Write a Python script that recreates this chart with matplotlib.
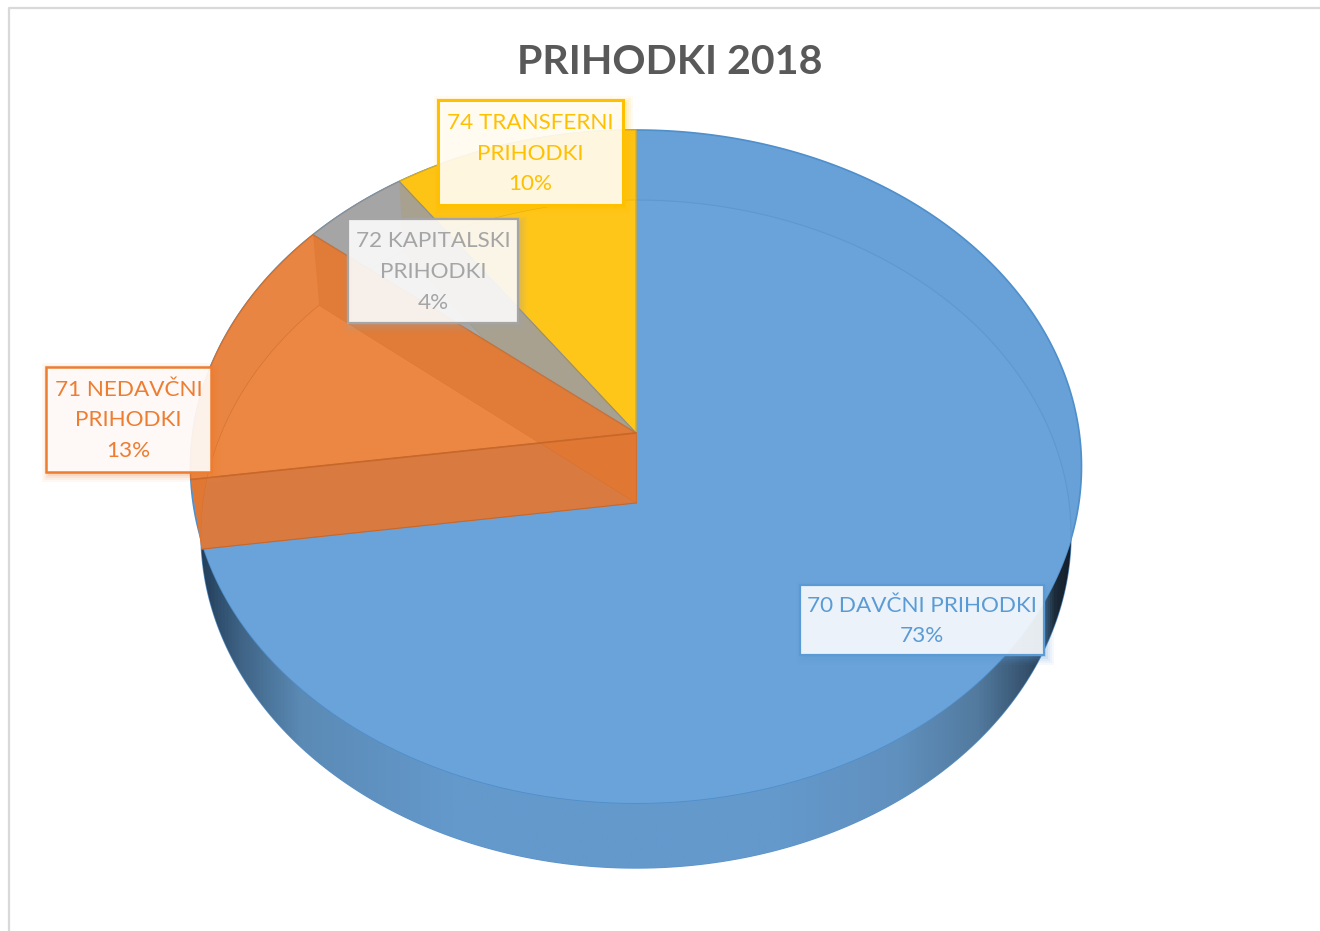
import numpy as np
import matplotlib
matplotlib.use('Agg')
import matplotlib.pyplot as plt
from matplotlib.colors import LinearSegmentedColormap
from matplotlib.patches import Polygon, Rectangle

plt.rcParams['font.family'] = ['Lato', 'DejaVu Sans']

# data
title = 'PRIHODKI 2018'
names = ['70 DAVČNI PRIHODKI', '71 NEDAVČNI\nPRIHODKI', '72 KAPITALSKI\nPRIHODKI', '74 TRANSFERNI\nPRIHODKI']
shares = [72.8, 13.1, 4.3, 9.8]

# slice colours: dark = top face only, light = top face over the see-through floor
text_colors = ['#5B9BD5', '#ED7D31', '#A5A5A5', '#FFC000']
dark_colors = ['#68A0D8', '#E98542', '#A5A5A5', '#FDC315']
light_colors = ['#6AA3DA', '#EB8742', '#A9A9A9', '#FFC61A']
cut_colors = [None, '#E17B38', None, None]
edge_colors = ['#4F8FCB', '#D0702F', '#8F8F8F', '#E0AC10']

# label boxes in pixels: left, top, right, bottom
boxes = [(800, 585, 1044, 655), (46, 367, 211, 472), (348, 219, 518, 323), (438, 100, 623, 205)]
box_alpha = [0.88, 0.90, 0.87, 0.87]
box_lw = [1.6, 1.8, 1.6, 2.2]

fig = plt.figure(figsize=(13.2, 9.31), dpi=100)
ax = fig.add_axes([0, 0, 1, 1])
ax.set_xlim(0, 1320)
ax.set_ylim(931, 0)
ax.axis('off')

# perspective pie: circle mapped to the picture, (apex y, top y, bottom y, half width)
TOP = (433, 130, 803, 445.5)
FLOOR = (503, 200, 868, 435)
CX = 636


def rim(view, fr0, fr1, n=120):
    # fractions are clockwise from 12 o'clock
    apex, top, bottom, half = view
    c = (top + bottom - 2 * apex) / (bottom - top)
    a = top * (1 + c) - apex
    k = half * np.sqrt(1 - c ** 2)
    t = np.pi / 2 - 2 * np.pi * np.linspace(fr0, fr1, n)
    u, v = np.cos(t), np.sin(t)
    d = 1 + c * v
    return np.column_stack([CX + k * u / d, (a * v + apex) / d])


def wedge(view, fr0, fr1):
    return np.vstack([[CX, view[0]], rim(view, fr0, fr1)])


def wall(fr):
    p0 = rim(TOP, fr, fr, 1)[0]
    p1 = rim(FLOOR, fr, fr, 1)[0]
    return np.array([[CX, TOP[0]], p0, p1, [CX, FLOOR[0]]])


def poly(xy, **kw):
    p = Polygon(xy, closed=True, **kw)
    ax.add_patch(p)
    return p


fr = np.concatenate([[0], np.cumsum(shares)]) / sum(shares)

# outer wall, visible where the floor pokes out under the top face
floor_all = poly(rim(FLOOR, 0, 1, 400), fc='#6499CC', ec='#5B94CC', lw=1, zorder=1)
stops = [(190, '#1B3550'), (240, '#3F6486'), (300, '#5B8AB5'), (450, '#6499CC'), (780, '#6499CC'),
         (900, '#6090BE'), (980, '#527A9E'), (1030, '#34506B'), (1060, '#1A2735'), (1085, '#0D1620')]
cmap = LinearSegmentedColormap.from_list('wall', [((x - 190) / 895, c) for x, c in stops])
im = ax.imshow(np.linspace(0, 1, 512).reshape(1, -1), extent=(190, 1085, 880, 190), aspect='auto', cmap=cmap, zorder=1.1)
im.set_clip_path(floor_all)
ax.set_xlim(0, 1320)
ax.set_ylim(931, 0)

# blue top face
top_all = poly(rim(TOP, 0, 1, 400), fc=dark_colors[0], ec=edge_colors[0], lw=1.2, zorder=2)
p = poly(rim(FLOOR, 0, 1, 400), fc=light_colors[0], ec='#5F98D0', lw=0.8, zorder=2.1)
p.set_clip_path(top_all)

# the three small slices, back to front
for i in [3, 2, 1]:
    tw = poly(wedge(TOP, fr[i], fr[i + 1]), fc=dark_colors[i], ec='none', zorder=3)
    p = poly(wedge(FLOOR, fr[i], fr[i + 1]), fc=light_colors[i], ec=edge_colors[i], lw=0.4, zorder=3.1)
    p.set_clip_path(tw)
    if i == 2:
        p = poly(wall(fr[3]), fc='#A9A18F', ec='none', zorder=3.2)
        p.set_clip_path(tw)
    if i == 1:
        p = poly(wall(fr[2]), fc=cut_colors[1], ec='none', zorder=3.2)
        p.set_clip_path(tw)
    poly(wedge(TOP, fr[i], fr[i + 1]), fc='none', ec=edge_colors[i], lw=0.9, zorder=3.6)

# front cut of the orange slice with the floor showing through
w = poly(wall(fr[1]), fc='#E07733', ec='none', zorder=4)
p = poly(wedge(FLOOR, fr[1], fr[2]), fc='#D97B40', ec='#D97030', lw=0.4, zorder=4.1)
p.set_clip_path(w)
ax.plot(*wall(fr[1])[:2].T, color='#C8672A', lw=1.2, zorder=4.2)
ax.plot(*wall(fr[1])[2:].T, color='#C8672A', lw=0.8, zorder=4.2)
ax.plot([CX, CX], [TOP[0], FLOOR[0]], color='#D0702F', lw=0.8, zorder=4.2)

# chart frame
ax.plot([9, 9, 1320], [931, 8, 8], color='#D9D9D9', lw=1.6, zorder=5)

# labels
for i, (l, t, r, b) in enumerate(boxes):
    for g, a in zip([9, 7, 5, 3, 1], [0.05, 0.07, 0.09, 0.11, 0.14]):
        ax.add_patch(Rectangle((l + 3 - g + 2, t + 3 - g + 2), r - l + 2 * g - 4, b - t + 2 * g - 4, fc=text_colors[i], ec='none', alpha=a, zorder=6))
    ax.add_patch(Rectangle((l, t), r - l, b - t, fc='white', ec='none', alpha=box_alpha[i], zorder=6.1))
    ax.add_patch(Rectangle((l, t), r - l, b - t, fc='none', ec=text_colors[i], lw=box_lw[i], zorder=6.2))
    ax.text((l + r) / 2, (t + b) / 2 + 1, f'{names[i]}\n{shares[i]:.0f}%', color=text_colors[i], fontsize=16.2,
            ha='center', va='center', ma='center', linespacing=1.68, zorder=7)

ax.text(670, 62, title, color='#595959', fontsize=29.6, fontweight='bold', ha='center', va='center', zorder=7)

fig.savefig('out.png', dpi=100)
